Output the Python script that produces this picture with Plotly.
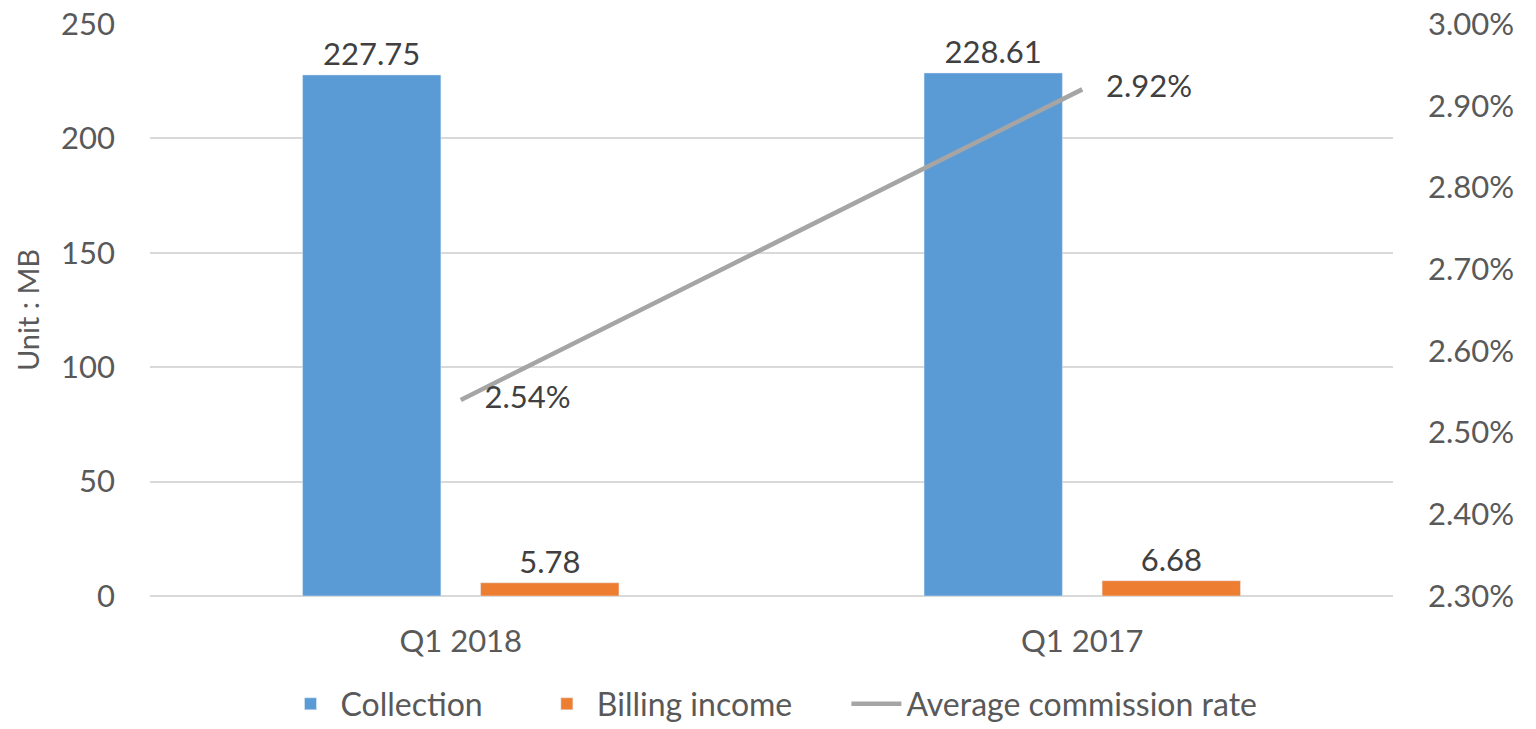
import plotly.graph_objects as go

categories = ["Q1 2018", "Q1 2017"]
collection = [227.75, 228.61]
billing_income = [5.78, 6.68]
avg_commission_rate = [2.54, 2.92]  # percent

left_ticks = [0, 50, 100, 150, 200, 250]
right_ticks = [2.30, 2.40, 2.50, 2.60, 2.70, 2.80, 2.90, 3.00]
right_tick_labels = [f"{v:.2f}%" for v in right_ticks]

FONT = "Lato, 'Open Sans', sans-serif"
TICK_COLOR = "#595959"
LABEL_COLOR = "#404040"
NB = "\u00a0"

fig = go.Figure()
fig.add_trace(go.Bar(
    x=categories, y=collection, name="Collection" + NB * 6,
    marker=dict(color="#5B9BD5"),
    text=[f"{v:.2f}" for v in collection], textposition="outside",
    textfont=dict(size=31, color=LABEL_COLOR, family=FONT),
    cliponaxis=False,
))
fig.add_trace(go.Bar(
    x=categories, y=billing_income, name="Billing income" + NB * 6,
    marker=dict(color="#ED7D31"),
    text=[f"{v:.2f}" for v in billing_income], textposition="outside",
    textfont=dict(size=31, color=LABEL_COLOR, family=FONT),
    cliponaxis=False,
))
fig.add_trace(go.Scatter(
    x=categories, y=avg_commission_rate, name="Average commission rate",
    yaxis="y2", mode="lines+text",
    line=dict(color="#A5A5A5", width=4.5),
    text=[f"   {v:.2f}%" for v in avg_commission_rate], textposition="middle right",
    textfont=dict(size=31, color=LABEL_COLOR, family=FONT),
    cliponaxis=False,
))

fig.update_layout(
    width=1536, height=729,
    margin=dict(l=150, r=143, t=24, b=133),
    paper_bgcolor="white", plot_bgcolor="white",
    font=dict(family=FONT, size=31, color=TICK_COLOR),
    barmode="group", bargap=0.427, bargroupgap=0.223,
    showlegend=True,
    legend=dict(orientation="h", x=0.5, xanchor="center",
                yref="container", y=0.072, yanchor="top",
                font=dict(size=32, color=TICK_COLOR, family=FONT),
                itemwidth=50, traceorder="normal"),
    xaxis=dict(type="category", showgrid=False, showline=False, ticks="",
               tickfont=dict(size=31, color=TICK_COLOR), range=[-0.5, 1.5],
               ticklabelstandoff=24, automargin=False),
    yaxis=dict(range=[0, 250], tickvals=left_ticks, showgrid=True, gridcolor="#D9D9D9",
               gridwidth=1.5, zeroline=True, zerolinecolor="#D9D9D9", zerolinewidth=1.5,
               showline=False, ticks="", tickfont=dict(size=31, color=TICK_COLOR),
               ticklabelstandoff=34, automargin=False, ticklabeloverflow="allow",
               title=dict(text="Unit : MB", font=dict(size=29, color=TICK_COLOR), standoff=12)),
    yaxis2=dict(range=[2.30, 3.00], tickvals=right_ticks, ticktext=right_tick_labels,
                overlaying="y", side="right",
                showgrid=False, zeroline=False, showline=False, ticks="",
                ticklabelstandoff=34, automargin=False, ticklabeloverflow="allow",
                tickfont=dict(size=31, color=TICK_COLOR)),
)

fig.write_html("out.html", config={"displayModeBar": False},
               post_script="document.body.style.margin='0';")
